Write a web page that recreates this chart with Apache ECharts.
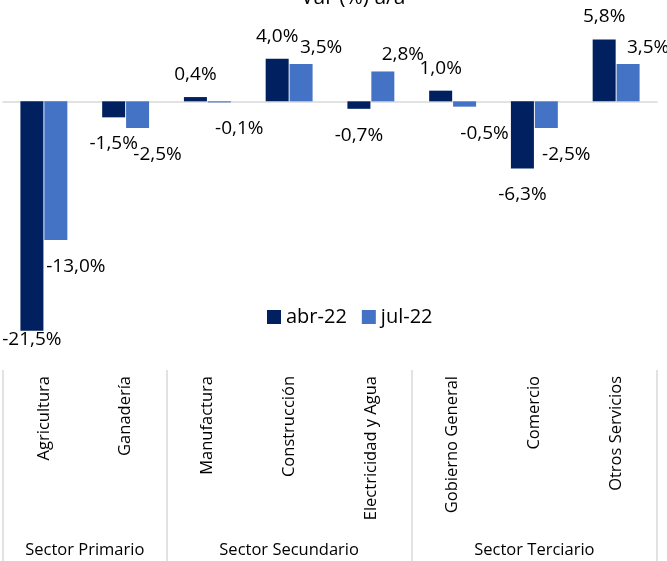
<!DOCTYPE html>
<html>
<head>
<meta charset="utf-8">
<script src="https://cdn.jsdelivr.net/npm/echarts@6/dist/echarts.min.js"></script>
<style>
  html, body { margin: 0; padding: 0; background: #fff; }
  #chart { width: 667px; height: 561px; }
</style>
</head>
<body>
<div id="chart"></div>
<script>
const categories = ['Agricultura', 'Ganadería', 'Manufactura', 'Construcción', 'Electricidad y Agua', 'Gobierno General', 'Comercio', 'Otros Servicios'];
const groups = ['Sector Primario', 'Sector Secundario', 'Sector Terciario'];
const groupSizes = [2, 3, 3];
const seriesNames = ['abr-22', 'jul-22'];
const abr22 = [-21.5, -1.5, 0.4, 4.0, -0.7, 1.0, -6.3, 5.8];
const jul22 = [-13.0, -2.5, -0.1, 3.5, 2.8, -0.5, -2.5, 3.5];

const FONT = "'Open Sans', 'Noto Sans', sans-serif";

// group boundaries (category index where each group starts) and centers
const groupStarts = [];
const groupCenters = [];
let acc = 0;
groupSizes.forEach(n => {
  groupStarts.push(acc);
  groupCenters.push(acc + n / 2);
  acc += n;
});

const fmt = v => v.toFixed(1).replace('.', ',') + '%';

// labels outside the bar end, pushed a bit to the right for the 2nd series
const barData = (values, dx, upDist, downDist) => values.map(v => ({
  value: v,
  label: {
    position: v >= 0 ? 'top' : 'bottom',
    distance: v >= 0 ? upDist : downDist,
    offset: [dx, 0]
  }
}));

const chart = echarts.init(document.getElementById('chart'), null, { renderer: 'canvas' });

const option = {
  backgroundColor: '#fff',
  animation: false,
  textStyle: { fontFamily: FONT },
  title: {
    text: 'Var (%) a/a',
    left: 296,
    top: -17,
    textStyle: { fontFamily: FONT, fontSize: 21, fontWeight: 'normal', color: '#000' }
  },
  legend: {
    data: seriesNames,
    left: 267,
    top: 306,
    padding: 0,
    icon: 'rect',
    itemWidth: 14,
    itemHeight: 14,
    itemGap: 15,
    textStyle: { fontFamily: FONT, fontSize: 20, color: '#000', lineHeight: 22 }
  },
  grid: {
    left: 3,
    right: 10,
    top: 16,
    height: 320,
    containLabel: false
  },
  xAxis: [
    {
      type: 'category',
      data: categories,
      axisLine: { onZero: true, lineStyle: { color: '#d9d9d9', width: 1.5 } },
      axisTick: { show: false },
      axisLabel: { show: false },
      splitLine: { show: false }
    },
    {
      type: 'category',
      data: categories,
      position: 'bottom',
      offset: 34,
      axisLine: { show: false },
      axisTick: {
        show: true,
        length: 191,
        interval: idx => groupStarts.includes(idx),
        lineStyle: { color: '#d9d9d9', width: 1.5 }
      },
      axisLabel: {
        interval: 0,
        rotate: 90,
        margin: 6,
        fontFamily: FONT,
        fontSize: 16.5,
        color: '#000'
      },
      splitLine: { show: false }
    },
    {
      type: 'value',
      min: 0,
      max: categories.length,
      interval: 0.5,
      position: 'bottom',
      offset: 34,
      axisLine: { show: false },
      axisTick: { show: false },
      splitLine: { show: false },
      axisLabel: {
        margin: 172,
        fontFamily: FONT,
        fontSize: 16.5,
        color: '#000',
        formatter: v => {
          const i = groupCenters.indexOf(v);
          return i >= 0 ? groups[i] : '';
        }
      }
    }
  ],
  yAxis: {
    type: 'value',
    min: -22,
    max: 8,
    show: false,
    splitLine: { show: false }
  },
  series: [
    {
      name: seriesNames[0],
      type: 'bar',
      xAxisIndex: 0,
      data: barData(abr22, 0, 13, 17),
      barWidth: 23,
      barGap: '4%',
      itemStyle: { color: '#002060' },
      label: {
        show: true,
        fontFamily: FONT,
        fontSize: 19,
        color: '#000',
        formatter: p => fmt(p.value)
      },
      // keep labels inside the plot area at the bottom
      labelLayout: p => ({ dy: Math.min(0, 349 - (p.labelRect.y + p.labelRect.height)) })
    },
    {
      name: seriesNames[1],
      type: 'bar',
      xAxisIndex: 0,
      data: barData(jul22, 20, 7, 17),
      barWidth: 23,
      barGap: '4%',
      itemStyle: { color: '#4472c4' },
      label: {
        show: true,
        fontFamily: FONT,
        fontSize: 19,
        color: '#000',
        formatter: p => fmt(p.value)
      }
    }
  ]
};

chart.setOption(option);
window.addEventListener('resize', () => chart.resize());
</script>
</body>
</html>
